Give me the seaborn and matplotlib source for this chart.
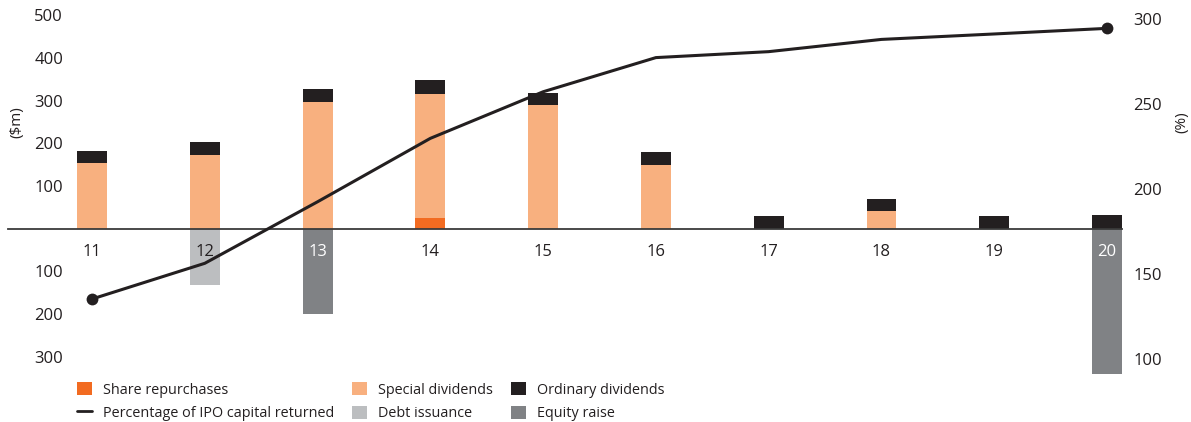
import numpy as np
import pandas as pd
import matplotlib
matplotlib.use('Agg')
import matplotlib.pyplot as plt
import seaborn as sns
from matplotlib.patches import Patch
from matplotlib.lines import Line2D

# ---- data ----
years = ['11', '12', '13', '14', '15', '16', '17', '18', '19', '20']
share_repurchases = [0, 0, 0, 25, 0, 0, 0, 0, 0, 0]
special_dividends = [154, 173, 297, 290, 290, 149, 0, 41, 0, 0]
ordinary_dividends = [28, 30, 30, 33, 28, 31, 30, 29, 30, 32]
debt_issuance = [0, 131, 0, 0, 0, 0, 0, 0, 0, 0]
equity_raise = [0, 0, 199, 0, 0, 0, 0, 0, 0, 340]
pct_ipo_returned = [135.3, 156.3, 192.5, 229.8, 257.2, 277.3, 280.8, 288.0, 291.2, 294.5]

left_ticks = [-300, -200, -100, 100, 200, 300, 400, 500]
right_ticks = [100, 150, 200, 250, 300]
white_label_years = ['13', '20']

# ---- style ----
sns.set_theme(style='white')
plt.rcParams['font.family'] = ['Open Sans', 'DejaVu Sans']

C_REP = '#F26B21'
C_SPEC = '#F8B07F'
C_ORD = '#231F20'
C_DEBT = '#BCBEC0'
C_EQ = '#808285'
TXT = '#231F20'

df = pd.DataFrame({'year': years})
rep = np.array(share_repurchases, dtype=float)
spec = np.array(special_dividends, dtype=float)
ordn = np.array(ordinary_dividends, dtype=float)
df['rep_top'] = rep
df['spec_top'] = rep + spec
df['ord_top'] = rep + spec + ordn
df['debt_neg'] = -np.array(debt_issuance, dtype=float)
df['eq_neg'] = -np.array(equity_raise, dtype=float)

W, H = 1191, 422
fig = plt.figure(figsize=(W / 100, H / 100), dpi=100)
ax = fig.add_axes([8 / W, 1 - 375 / H, (1122 - 8) / W, 365 / H])

BW = 0.265
common = dict(x='year', width=BW, saturation=1, errorbar=None, linewidth=0, ax=ax)
sns.barplot(data=df, y='ord_top', color=C_ORD, **common)
sns.barplot(data=df, y='spec_top', color=C_SPEC, **common)
sns.barplot(data=df, y='rep_top', color=C_REP, **common)
sns.barplot(data=df, y='debt_neg', color=C_DEBT, **common)
sns.barplot(data=df, y='eq_neg', color=C_EQ, **common)

ax2 = ax.twinx()
sns.lineplot(x=np.arange(len(years)), y=pct_ipo_returned, ax=ax2, color=TXT,
             linewidth=2.2, marker='o', markevery=[0, len(years) - 1],
             markersize=8.5, markeredgewidth=0, markerfacecolor=TXT)

ax.set_xlim(-0.745, 9.133)
ax.set_ylim(-342.6, 512)
ax2.set_ylim(90.6, 305.3)

# axes cosmetics
ax.set_axisbelow(False)
for s in ['left', 'right', 'top']:
    ax.spines[s].set_visible(False)
ax.spines['bottom'].set_position(('data', 0))
ax.spines['bottom'].set_color('#3a3a3a')
ax.spines['bottom'].set_linewidth(1.3)
for s in ax2.spines.values():
    s.set_visible(False)

ax.set_xlabel('')
ax.set_ylabel('')
ax2.set_ylabel('')
ax.set_xticks(range(len(years)))
ax.set_xticklabels(years)
ax.tick_params(axis='x', length=0, pad=11, labelsize=12, labelcolor=TXT)
for lab, yr in zip(ax.get_xticklabels(), years):
    if yr in white_label_years:
        lab.set_color('white')

ax.set_yticks(left_ticks)
ax.set_yticklabels([str(abs(t)) for t in left_ticks])
ax.tick_params(axis='y', length=0, pad=-39.6, labelsize=12, labelcolor=TXT)

ax2.set_yticks(right_ticks)
ax2.set_yticklabels([str(t) for t in right_ticks])
ax2.tick_params(axis='y', length=0, pad=8, labelsize=12, labelcolor=TXT)

fig.text(17 / W, 1 - 122 / H, '($m)', rotation=90, ha='center', va='center',
         fontsize=11, color=TXT)
fig.text(1182 / W, 1 - 122 / H, '(%)', rotation=90, ha='center', va='center',
         fontsize=11, color=TXT)

handles = [
    Patch(facecolor=C_REP, edgecolor='none'),
    Line2D([0], [0], color=TXT, lw=2),
    Patch(facecolor=C_SPEC, edgecolor='none'),
    Patch(facecolor=C_DEBT, edgecolor='none'),
    Patch(facecolor=C_ORD, edgecolor='none'),
    Patch(facecolor=C_EQ, edgecolor='none'),
]
labels = ['Share repurchases', 'Percentage of IPO capital returned',
          'Special dividends', 'Debt issuance',
          'Ordinary dividends', 'Equity raise']
fig.legend(handles, labels, ncol=3, loc='upper left',
           bbox_to_anchor=(77 / W, 1 - 382 / H), frameon=False, fontsize=10.4,
           handlelength=1.05, handleheight=1.05, handletextpad=0.75,
           columnspacing=1.25, labelspacing=0.55, borderpad=0, borderaxespad=0,
           labelcolor=TXT)

fig.savefig('out.png', dpi=100)
